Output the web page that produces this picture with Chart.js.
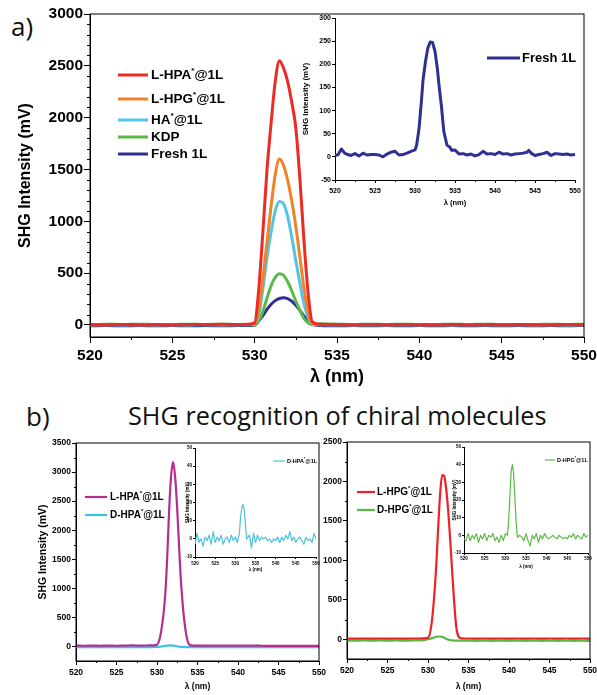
<!DOCTYPE html>
<html>
<head>
<meta charset="utf-8">
<script src="https://cdn.jsdelivr.net/npm/chart.js@4.4.1/dist/chart.umd.min.js"></script>
<style>
  html, body { margin: 0; padding: 0; background: #fff; }
  #page { position: relative; width: 597px; height: 695px; overflow: hidden; background: #fff; }
  canvas { position: absolute; }
  .lbl { position: absolute; font-family: 'Open Sans', sans-serif; color: #111; white-space: nowrap; line-height: 1; }
</style>
</head>
<body>
<div id="page">
  <div class="lbl" style="left:11px; top:13px; font-size:26px;">a)</div>
  <div class="lbl" style="left:26px; top:403px; font-size:26px;">b)</div>
  <div class="lbl" id="titleB" style="left:128px; top:402px; font-size:26px; transform-origin:0 0;">SHG recognition of chiral molecules</div>
</div>
<script>
var FAMILY = "'Liberation Sans', Arial, Helvetica, sans-serif";

// ---------- panel a, main plot ----------
var aX = [520, 521, 522, 523, 524, 525, 526, 527, 528, 529, 529.5,
  530, 530.25, 530.5, 530.75, 531, 531.25, 531.5, 531.75, 532, 532.25, 532.5, 532.75, 533, 533.25, 533.5,
  534, 535, 536, 537, 538, 539, 540, 541, 542, 543, 544, 545, 546, 547, 548, 549, 550];
var aLHPA = [4, 2, 5, 2, 4, 2, 5, 4, 6, 4, 6,
  20, 350, 900, 1500, 1950, 2350, 2550, 2480, 2350, 2150, 1900, 1400, 800, 300, 30,
  6, 4, 3, 5, 3, 5, 3, 3, 5, 3, 5, 3, 5, 3, 3, 5, 3];
var aLHPG = [3, 2, 4, 2, 3, 2, 3, 4, 2, 3, 4,
  10, 150, 450, 800, 1150, 1450, 1600, 1540, 1400, 1200, 950, 650, 350, 120, 15,
  4, 2, 3, 2, 3, 2, 4, 2, 3, 2, 3, 2, 3, 2, 3, 2, 3];
var aHA = [0, 3, 0, 3, 0, 3, 0, 3, 0, 3, 3,
  10, 100, 350, 650, 900, 1100, 1190, 1170, 1050, 850, 620, 400, 200, 70, 10,
  3, 3, 0, 3, 0, 3, 0, 3, 0, 3, 3, 0, 3, 0, 3, 0, 3];
var aKDP = [4, 8, 4, 8, 4, 4, 8, 4, 8, 4, 4,
  0, 40, 130, 260, 380, 460, 495, 480, 420, 330, 230, 140, 60, 20, 5,
  12, 8, 4, 8, 4, 8, 4, 4, 8, 4, 8, 4, 4, 4, 8, 4, 8];
var aFresh = [-8, -5, -8, -5, -8, -5, -8, -5, -8, -5, -5,
  0, 40, 90, 150, 200, 235, 255, 262, 255, 230, 190, 140, 85, 35, 5,
  -5, -8, -5, -8, -5, -8, -5, -8, -5, -8, -5, -8, -5, -8, -5, -8, -5];
var aLabels = ['L-HPA*@1L', 'L-HPG*@1L', 'HA*@1L', 'KDP', 'Fresh 1L'];
var aColors = ['#ee2a24', '#f0822a', '#53c4e4', '#5ab947', '#2e3192'];
var aTicksX = [520, 525, 530, 535, 540, 545, 550];
var aTicksY = [0, 500, 1000, 1500, 2000, 2500, 3000];

// ---------- panel a, inset ----------
var aInsetX = [520, 520.4, 520.8, 521.2, 521.6, 522, 522.5, 523, 523.5, 524, 524.5, 525, 525.5, 526, 526.5,
  527, 527.5, 528, 528.5, 529, 529.5, 530, 530.2, 530.5, 530.8, 531, 531.3, 531.6, 531.9, 532.2,
  532.5, 532.8, 533, 533.3, 533.6, 534, 534.3, 534.6, 535, 535.5, 536, 536.5, 537, 537.5, 538,
  538.5, 539, 539.5, 540, 540.5, 541, 541.5, 542, 542.5, 543, 543.5, 544, 544.2, 544.6, 545,
  545.5, 546, 546.5, 547, 547.5, 548, 548.5, 549, 549.5, 550];
var aInsetFresh = [3, 5, 17, 8, 5, 3, 7, 2, 8, 4, 5, 5, 4, 0, 6,
  10, 12, 4, 5, 8, 12, 15, 25, 60, 120, 165, 205, 235, 248, 247,
  228, 190, 155, 110, 55, 25, 22, 14, 15, 6, 7, 4, 6, 2, 5,
  12, 6, 7, 5, 10, 6, 7, 4, 6, 7, 8, 10, 14, 7, 3,
  5, 7, 10, 3, 7, 6, 5, 6, 4, 5];
var aInsetTicksY = [-50, 0, 50, 100, 150, 200, 250, 300];

// ---------- panel b, main plots ----------
var bX = [520, 521, 522, 523, 524, 525, 526, 527, 528, 529, 529.5,
  530, 530.5, 531, 531.25, 531.5, 531.75, 532, 532.25, 532.5, 532.75, 533, 533.5, 534,
  534.5, 535, 536, 537, 538, 539, 540, 541, 542, 543, 544, 545, 546, 547, 548, 549, 550];
var bLHPA = [15, 12, 15, 12, 15, 12, 15, 18, 15, 18, 20,
  30, 250, 860, 1500, 2350, 2950, 3170, 2900, 2350, 1650, 1030, 300, 30,
  15, 15, 15, 15, 15, 15, 15, 15, 15, 12, 10, 10, 10, 10, 10, 10, 10];
var bDHPA = [-12, -10, -12, -10, -12, -10, -12, -10, -10, -12, -10,
  -8, 0, 10, 15, 18, 18, 15, 10, 2, -5, -8, -10, -12,
  -10, -12, -10, -12, -10, -12, -10, -12, -10, -10, -12, -10, -12, -10, -12, -10, -12];
var bLHPG = [10, 8, 10, 8, 10, 8, 10, 8, 10, 10, 12,
  20, 250, 900, 1400, 1850, 2080, 2070, 1900, 1620, 1250, 830, 150, 15,
  10, 10, 8, 10, 8, 10, 8, 10, 8, 10, 8, 10, 8, 10, 8, 10, 8];
var bDHPG = [-15, -18, -15, -18, -15, -18, -15, -18, -15, -15, -10,
  0, 15, 30, 35, 35, 30, 20, 5, -5, -12, -15, -18, -18,
  -18, -18, -20, -18, -20, -18, -20, -18, -20, -18, -20, -18, -20, -18, -20, -18, -20];
var bTicksLeftY = [0, 500, 1000, 1500, 2000, 2500, 3000, 3500];
var bTicksRightY = [0, 500, 1000, 1500, 2000, 2500];

// ---------- panel b, insets ----------
var bInsetLeftX = [520, 520.5, 521, 521.5, 522, 522.5, 523, 523.5, 524, 524.5, 525, 525.5, 526, 526.5,
  527, 527.5, 528, 528.5, 529, 529.5, 530, 530.5, 531,
  531.3, 531.6, 531.9, 532.2, 532.5, 532.8,
  533.5, 534, 534.5, 535, 535.5, 536, 536.5, 537, 537.5, 538, 538.5, 539, 539.5, 540, 540.5,
  541, 541.5, 542, 542.5, 543, 543.5, 544, 544.5, 545, 545.5, 546, 546.5, 547, 547.5, 548,
  548.5, 549, 549.5, 550];
var bInsetDHPA = [-3, 3, -2, 0, -4, 1, -1, 2, -3, 4, -2, 1, -1, 2,
  -3, 0, 1, -2, 2, -1, 1, -2, 3,
  12, 17, 19, 16, 8, 0,
  2, -5, 3, -2, 2, -1, 1, 0, 1, -1, 0, -2, 0, -1, 1,
  -2, 1, -1, 2, 0, 4, -1, 1, -2, 0, 1, -1, -3, 1, -1,
  0, -2, 3, 0];
var bInsetRightX = [520, 520.5, 521, 521.5, 522, 522.5, 523, 523.5, 524, 524.5, 525, 525.5, 526, 526.5,
  527, 527.5, 528, 528.5, 529, 529.5, 530, 530.5,
  530.8, 531.1, 531.4, 531.7, 532, 532.3, 532.6, 532.9,
  533.5, 534, 534.5, 535, 535.5, 536, 536.5, 537, 537.5, 538, 538.5, 539, 539.5, 540, 540.5,
  541, 541.5, 542, 542.5, 543, 543.5, 544, 544.5, 545, 545.5, 546, 546.5, 547, 547.5, 548,
  548.5, 549, 549.5, 550];
var bInsetDHPG = [-2, -3, 1, -3, 0, -2, 1, -4, 0, -2, 1, -3, 0, -1,
  1, -3, -1, -4, 0, -3, 1, 0,
  8, 22, 36, 40, 35, 22, 8, -1,
  0, -1, -3, 1, -3, -6, 0, -2, 1, -4, 0, -2, 1, -1, -2,
  -1, 0, -1, -2, 0, -1, -2, -1, -2, 0, -1, 1, -2, 0, -1,
  -2, 1, -1, 0];
var bInsetTicksY = [-10, 0, 10, 20, 30, 40, 50];

function pts(xs, ys) {
  return xs.map(function (x, i) { return { x: x, y: ys[i] }; });
}

// label text with a small raised asterisk, e.g. "L-HPA*@1L"
function drawLabel(ctx, text, x, y, size) {
  var parts = text.split('*');
  ctx.font = 'bold ' + size + 'px ' + FAMILY;
  ctx.textBaseline = 'middle';
  ctx.textAlign = 'left';
  ctx.fillText(parts[0], x, y);
  if (parts.length > 1) {
    x += ctx.measureText(parts[0]).width;
    ctx.font = 'bold ' + (size * 0.6) + 'px ' + FAMILY;
    ctx.fillText('*', x, y - size * 0.32);
    x += ctx.measureText('*').width;
    ctx.font = 'bold ' + size + 'px ' + FAMILY;
    ctx.fillText(parts[1], x, y);
  }
}

// frame, minor ticks and the hand placed legend
var extrasPlugin = {
  id: 'extras',
  afterDraw: function (chart, args, opts) {
    var ctx = chart.ctx;
    var area = chart.chartArea;
    var sx = chart.scales.x, sy = chart.scales.y;
    ctx.save();
    ctx.strokeStyle = '#000';
    ctx.lineWidth = 1;
    if (opts.frame) {
      ctx.strokeRect(area.left, area.top, area.right - area.left, area.bottom - area.top);
    }
    ctx.beginPath();
    if (opts.minorX) {
      for (var v = sx.min; v <= sx.max + 1e-9; v += opts.minorX) {
        if (opts.majorX.indexOf(v) >= 0) continue;
        var px = Math.round(sx.getPixelForValue(v)) + 0.5;
        ctx.moveTo(px, area.bottom);
        ctx.lineTo(px, area.bottom + opts.minorLen);
      }
    }
    if (opts.minorY) {
      for (var w = 0; w <= sy.max + 1e-9; w += opts.minorY) {
        if (opts.majorY.indexOf(w) >= 0) continue;
        var py = Math.round(sy.getPixelForValue(w)) + 0.5;
        ctx.moveTo(area.left - opts.minorLen, py);
        ctx.lineTo(area.left, py);
      }
    }
    ctx.stroke();
    if (opts.legend) {
      var lg = opts.legend;
      chart.data.datasets.forEach(function (ds, i) {
        var y = lg.ys[i];
        ctx.strokeStyle = ds.borderColor;
        ctx.lineWidth = lg.lineWidth;
        ctx.beginPath();
        ctx.moveTo(lg.x, y);
        ctx.lineTo(lg.x + lg.len, y);
        ctx.stroke();
        ctx.fillStyle = '#000';
        drawLabel(ctx, ds.label, lg.x + lg.len + lg.gap, y, lg.size);
      });
    }
    ctx.restore();
  }
};

function makeChart(c) {
  var cv = document.createElement('canvas');
  var offX = c.l - c.yW, offY = c.t - c.padT;
  cv.width = c.yW + (c.r - c.l) + c.padR;
  cv.height = c.padT + (c.b - c.t) + c.xH;
  cv.style.left = offX + 'px';
  cv.style.top = offY + 'px';
  document.getElementById('page').appendChild(cv);

  var tickFont = { family: FAMILY, size: c.tickFont, weight: 'bold' };
  var legend = null;
  if (c.legend) {
    legend = {
      x: c.legend.x - offX,
      ys: c.legend.ys.map(function (y) { return y - offY; }),
      len: c.legend.len, gap: c.legend.gap, size: c.legend.size, lineWidth: c.legend.lineWidth
    };
  }

  return new Chart(cv.getContext('2d'), {
    type: 'line',
    data: {
      datasets: c.series.map(function (s) {
        return {
          label: s.label,
          data: pts(s.x, s.y),
          borderColor: s.color,
          borderWidth: c.lineWidth,
          borderJoinStyle: 'round',
          pointRadius: 0,
          fill: false,
          tension: c.smooth ? 0.4 : 0,
          cubicInterpolationMode: c.smooth ? 'monotone' : 'default'
        };
      })
    },
    options: {
      responsive: false,
      animation: false,
      layout: { padding: { top: c.padT, right: c.padR, left: 0, bottom: 0 } },
      plugins: {
        legend: { display: false },
        tooltip: { enabled: false },
        extras: {
          frame: c.frame, minorX: c.minorX, minorY: c.minorY, minorLen: c.minorLen,
          majorX: c.xTicks, majorY: c.yTicks, legend: legend
        }
      },
      scales: {
        x: {
          type: 'linear', min: 520, max: 550,
          afterBuildTicks: function (s) { s.ticks = c.xTicks.map(function (v) { return { value: v }; }); },
          afterFit: function (s) { s.height = c.xH; s.paddingLeft = 0; s.paddingRight = 0; },
          grid: { drawOnChartArea: false, tickLength: c.tickLen, color: '#000', tickColor: '#000' },
          border: { display: true, color: '#000', width: 1 },
          ticks: {
            color: '#000', font: tickFont, padding: c.xTickPad, maxRotation: 0, autoSkip: false,
            callback: function (v) { return String(v); }
          },
          title: {
            display: true, text: 'λ (nm)', color: '#000',
            font: { family: FAMILY, size: c.xTitleFont, weight: 'bold' },
            padding: { top: 0, bottom: c.xTitlePad }
          }
        },
        y: {
          type: 'linear', min: c.yMin, max: c.yMax,
          afterBuildTicks: function (s) { s.ticks = c.yTicks.map(function (v) { return { value: v }; }); },
          afterFit: function (s) { s.width = c.yW; s.paddingTop = 0; s.paddingBottom = 0; },
          grid: { drawOnChartArea: false, tickLength: c.tickLen, color: '#000', tickColor: '#000' },
          border: { display: true, color: '#000', width: 1 },
          ticks: {
            color: '#000', font: tickFont, padding: c.yTickPad, autoSkip: false,
            callback: function (v) { return String(v); }
          },
          title: {
            display: !!c.yTitleFont, text: 'SHG Intensity (mV)', color: '#000',
            font: { family: FAMILY, size: c.yTitleFont || 10, weight: 'bold' },
            padding: { top: c.yTitlePad || 0, bottom: 0 }
          }
        }
      }
    },
    plugins: [extrasPlugin]
  });
}

// panel a main
makeChart({
  l: 90, r: 584, t: 14, b: 337, yW: 90, xH: 58, padT: 14, padR: 13,
  yMin: -116, yMax: 3000, xTicks: aTicksX, yTicks: aTicksY,
  tickLen: 6, minorLen: 3, minorX: 2.5, minorY: 100, frame: true,
  tickFont: 15.5, xTickPad: 3, yTickPad: 1,
  xTitleFont: 18, xTitlePad: 7, yTitleFont: 16, yTitlePad: 16,
  lineWidth: 3, smooth: true,
  series: [
    { label: aLabels[0], x: aX, y: aLHPA, color: aColors[0] },
    { label: aLabels[1], x: aX, y: aLHPG, color: aColors[1] },
    { label: aLabels[2], x: aX, y: aHA, color: aColors[2] },
    { label: aLabels[3], x: aX, y: aKDP, color: aColors[3] },
    { label: aLabels[4], x: aX, y: aFresh, color: aColors[4] }
  ],
  legend: { x: 118, ys: [75, 99, 120, 137, 154], len: 30, gap: 3, size: 13.5, lineWidth: 3 }
});

// panel a inset
makeChart({
  l: 335, r: 575, t: 18, b: 180, yW: 35, xH: 30, padT: 8, padR: 12,
  yMin: -50, yMax: 300, xTicks: aTicksX, yTicks: aInsetTicksY,
  tickLen: 3, minorLen: 2, minorX: 2.5, frame: false,
  tickFont: 7, xTickPad: 4, yTickPad: 1,
  xTitleFont: 7.5, xTitlePad: 2.5, yTitleFont: 8, yTitlePad: 1,
  lineWidth: 3, smooth: false,
  series: [{ label: 'Fresh 1L', x: aInsetX, y: aInsetFresh, color: '#2e3192' }],
  legend: { x: 487, ys: [58], len: 33, gap: 2, size: 13, lineWidth: 3 }
});

// panel b left
makeChart({
  l: 76, r: 319, t: 443, b: 661, yW: 76, xH: 34, padT: 6, padR: 11,
  yMin: -250, yMax: 3500, xTicks: aTicksX, yTicks: bTicksLeftY,
  tickLen: 4, minorLen: 2, minorX: 2.5, minorY: 250, frame: true,
  tickFont: 8.5, xTickPad: 3, yTickPad: 1,
  xTitleFont: 8.5, xTitlePad: 3, yTitleFont: 10.5, yTitlePad: 37,
  lineWidth: 2.2, smooth: true,
  series: [
    { label: 'L-HPA*@1L', x: bX, y: bLHPA, color: '#b52d8e' },
    { label: 'D-HPA*@1L', x: bX, y: bDHPA, color: '#3fc0de' }
  ],
  legend: { x: 85, ys: [497, 515], len: 22, gap: 3, size: 10, lineWidth: 2.2 }
});

// panel b left inset
makeChart({
  l: 195, r: 316, t: 448, b: 557, yW: 18, xH: 18, padT: 5, padR: 10,
  yMin: -10, yMax: 50, xTicks: aTicksX, yTicks: bInsetTicksY,
  tickLen: 2, minorLen: 1, frame: false,
  tickFont: 4.5, xTickPad: 2, yTickPad: 1,
  xTitleFont: 4.5, xTitlePad: 2.3, yTitleFont: 4.5, yTitlePad: 8,
  lineWidth: 1.2, smooth: false,
  series: [{ label: 'D-HPA*@1L', x: bInsetLeftX, y: bInsetDHPA, color: '#4fc1dc' }],
  legend: { x: 273, ys: [461], len: 12, gap: 2, size: 5.5, lineWidth: 1.2 }
});

// panel b right
makeChart({
  l: 347, r: 590, t: 442, b: 659, yW: 30, xH: 36, padT: 6, padR: 7,
  yMin: -250, yMax: 2500, xTicks: aTicksX, yTicks: bTicksRightY,
  tickLen: 4, minorLen: 2, minorX: 2.5, minorY: 250, frame: true,
  tickFont: 8.5, xTickPad: 3, yTickPad: 1,
  xTitleFont: 8.5, xTitlePad: 3,
  lineWidth: 2.2, smooth: true,
  series: [
    { label: 'L-HPG*@1L', x: bX, y: bLHPG, color: '#ec2227' },
    { label: 'D-HPG*@1L', x: bX, y: bDHPG, color: '#58b947' }
  ],
  legend: { x: 357, ys: [492, 510], len: 18, gap: 2, size: 10, lineWidth: 2.2 }
});

// panel b right inset
makeChart({
  l: 464, r: 588, t: 447, b: 553, yW: 18, xH: 18, padT: 5, padR: 8,
  yMin: -10, yMax: 50, xTicks: aTicksX, yTicks: bInsetTicksY,
  tickLen: 2, minorLen: 1, frame: false,
  tickFont: 4.5, xTickPad: 1, yTickPad: 1,
  xTitleFont: 4.5, xTitlePad: 1.3, yTitleFont: 4.5, yTitlePad: 6,
  lineWidth: 1.2, smooth: false,
  series: [{ label: 'D-HPG*@1L', x: bInsetRightX, y: bInsetDHPG, color: '#5ab947' }],
  legend: { x: 545, ys: [460], len: 10, gap: 2, size: 5.5, lineWidth: 1.2 }
});

// stretch the b) title to the width it has in the figure
var tb = document.getElementById('titleB');
tb.style.transform = 'scaleX(' + (419 / tb.offsetWidth) + ')';
</script>
</body>
</html>
